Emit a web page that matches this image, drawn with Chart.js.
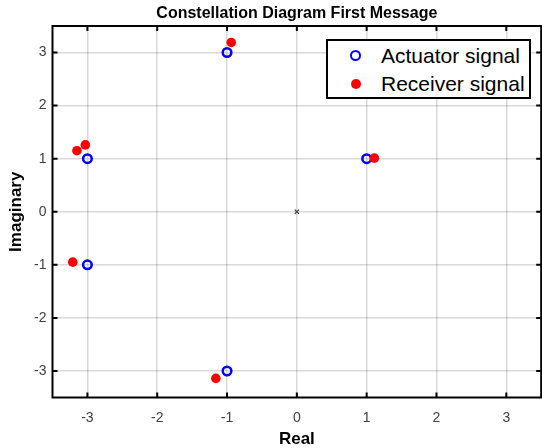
<!DOCTYPE html>
<html lang="en">
  <head>
    <meta charset="UTF-8" />
    <title>Constellation Diagram First Message</title>
    <script src="https://cdn.jsdelivr.net/npm/chart.js"></script>
    <style>
      html, body { margin: 0; padding: 0; overflow: hidden; background: #fff; }
      .wrap { position: relative; width: 548px; height: 448px; }
      .legend {
        position: absolute; left: 326px; top: 39px; width: 205px; height: 60px;
        box-sizing: border-box; border: 2px solid #000; background: #fff;
        font-family: "Liberation Sans", Arial, sans-serif; font-size: 21px; color: #000;
      }
      .row { position: absolute; left: 0; height: 24px; line-height: 24px; }
      .row .mark { position: absolute; box-sizing: border-box; border-radius: 50%; }
      .row .txt { position: absolute; left: 53px; white-space: nowrap; }
    </style>
  </head>

  <body>
    <div class="wrap">
      <canvas id="chart" width="548" height="448"></canvas>
      <div class="legend">
        <div class="row" style="top: 3px">
          <span class="mark" style="left: 22px; top: 6px; width: 11px; height: 11px; border: 2.5px solid #0000ff"></span>
          <span class="txt">Actuator signal</span>
        </div>
        <div class="row" style="top: 31px">
          <span class="mark" style="left: 22.5px; top: 6.5px; width: 10px; height: 10px; background: #ff0000"></span>
          <span class="txt">Receiver signal</span>
        </div>
      </div>
    </div>

    <script>
      // values
      const actuatorReal = [-1, -3, -3, -1, 1];
      const actuatorImag = [3, 1, -1, -3, 1];
      const receiverReal = [-0.94, -3.15, -3.03, -3.21, -1.16, 1.11];
      const receiverImag = [3.19, 1.15, 1.26, -0.95, -3.14, 1.01];
      const originReal = [0];
      const originImag = [0];
      const xTicks = [-3, -2, -1, 0, 1, 2, 3];
      const yTicks = [-3, -2, -1, 0, 1, 2, 3];

      const toPoints = (xs, ys) => xs.map((x, i) => ({ x: x, y: ys[i] }));

      // MATLAB style box with inward ticks on all four sides
      const axesBox = {
        id: "axesBox",
        afterDatasetsDraw(chart) {
          const { ctx, chartArea: a, scales } = chart;
          ctx.save();
          ctx.strokeStyle = "#000";
          ctx.lineWidth = 2;
          ctx.beginPath();
          xTicks.forEach((v) => {
            const px = scales.x.getPixelForValue(v);
            ctx.moveTo(px, a.bottom);
            ctx.lineTo(px, a.bottom - 5);
            ctx.moveTo(px, a.top);
            ctx.lineTo(px, a.top + 5);
          });
          yTicks.forEach((v) => {
            const py = scales.y.getPixelForValue(v);
            ctx.moveTo(a.left, py);
            ctx.lineTo(a.left + 5, py);
            ctx.moveTo(a.right, py);
            ctx.lineTo(a.right - 5, py);
          });
          ctx.stroke();
          ctx.strokeRect(a.left, a.top, a.right - a.left, a.bottom - a.top);
          ctx.restore();
        },
      };

      const tickFont = { family: "'Liberation Sans', Arial, sans-serif", size: 14 };
      const labelFont = { family: "'Liberation Sans', Arial, sans-serif", size: 17, weight: "bold", lineHeight: 1 };

      new Chart(document.getElementById("chart"), {
        type: "scatter",
        data: {
          datasets: [
            {
              label: "Actuator signal",
              data: toPoints(actuatorReal, actuatorImag),
              pointStyle: "circle",
              pointRadius: 4.3,
              pointHoverRadius: 4.3,
              borderWidth: 2.5,
              borderColor: "#0000ff",
              backgroundColor: "rgba(0,0,0,0)",
              order: 2,
            },
            {
              label: "Receiver signal",
              data: toPoints(receiverReal, receiverImag),
              pointStyle: "circle",
              pointRadius: 4.8,
              pointHoverRadius: 4.8,
              borderWidth: 0,
              borderColor: "#ff0000",
              backgroundColor: "#ff0000",
              order: 1,
            },
            {
              label: "origin",
              data: toPoints(originReal, originImag),
              pointStyle: "crossRot",
              pointRadius: 3,
              borderWidth: 1.4,
              borderColor: "#444",
              order: 3,
            },
          ],
        },
        options: {
          responsive: false,
          animation: false,
          layout: { padding: { top: 0, right: 3, left: 0, bottom: 0 } },
          plugins: {
            legend: { display: false },
            tooltip: { enabled: false },
            title: {
              display: true,
              fullSize: false,
              text: "Constellation Diagram First Message",
              color: "#000",
              font: { family: "'Liberation Sans', Arial, sans-serif", size: 16, weight: "bold", lineHeight: 1 },
              padding: { top: 6, bottom: 4 },
            },
          },
          scales: {
            x: {
              type: "linear",
              min: -3.5,
              max: 3.5,
              afterBuildTicks: (s) => { s.ticks = xTicks.map((v) => ({ value: v })); },
              afterFit: (s) => { s.height = 50.5; },
              grid: { color: "rgba(0,0,0,0.15)", lineWidth: 1.5, drawTicks: false },
              border: { display: false },
              ticks: { color: "#404040", font: tickFont, padding: 12, maxRotation: 0 },
              title: { display: true, text: "Real", color: "#000", font: labelFont, padding: { top: 0, bottom: 0 } },
            },
            y: {
              type: "linear",
              min: -3.5,
              max: 3.5,
              afterBuildTicks: (s) => { s.ticks = yTicks.map((v) => ({ value: v })); },
              afterFit: (s) => { s.width = 52.5; },
              grid: { color: "rgba(0,0,0,0.15)", lineWidth: 1.5, drawTicks: false },
              border: { display: false },
              ticks: { color: "#404040", font: tickFont, padding: 6 },
              title: { display: true, text: "Imaginary", color: "#000", font: labelFont, padding: { top: 8, bottom: 0 } },
            },
          },
        },
        plugins: [axesBox],
      });
    </script>
  </body>
</html>
